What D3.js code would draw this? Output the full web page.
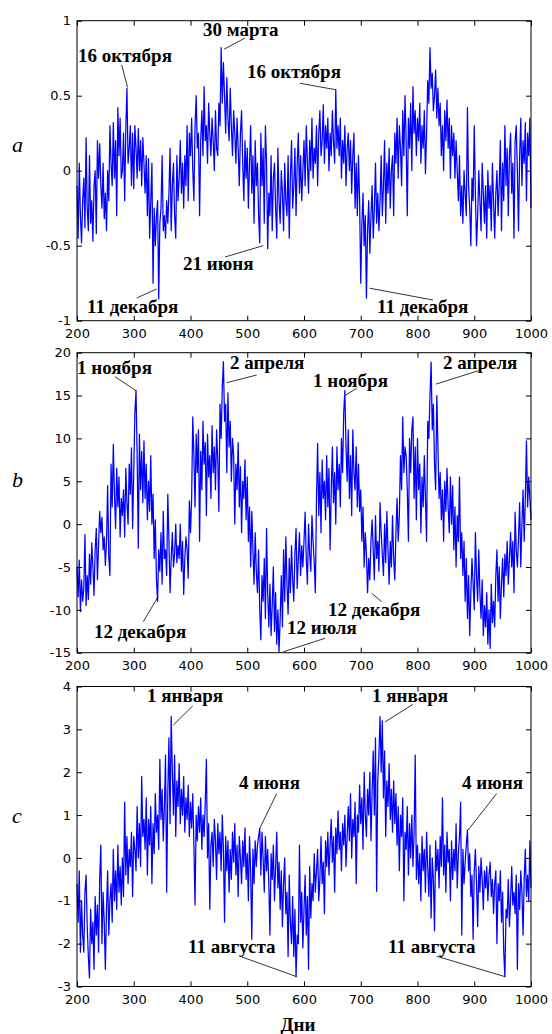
<!DOCTYPE html>
<html><head><meta charset="utf-8">
<script src="https://cdn.jsdelivr.net/npm/d3@7"></script>
<style>body{margin:0;background:#fff} svg{display:block}</style>
</head><body>
<svg id="chart" width="552" height="1034"></svg>
<script>
// ---------- DATA ----------
const startDay = 200, stepDays = 2;
const xTicks = [200, 300, 400, 500, 600, 700, 800, 900, 1000];
const yTicksA = [-1, -0.5, 0, 0.5, 1];
const yTicksB = [-15, -10, -5, 0, 5, 10, 15, 20];
const yTicksC = [-3, -2, -1, 0, 1, 2, 3, 4];
const panelLetters = ["a", "b", "c"];
const xAxisLabel = "Дни";

const seriesA = [
-0.10,-0.45,0.05,-0.30,-0.48,-0.20,-0.05,-0.38,0.22,-0.25,
-0.40,0.10,-0.35,-0.20,-0.47,-0.10,0.00,-0.42,0.20,-0.05,
0.18,-0.10,-0.25,0.05,-0.32,-0.15,-0.40,0.00,-0.20,0.30,
0.05,-0.10,0.32,-0.05,0.20,-0.30,0.42,0.10,0.35,-0.05,
0.00,0.25,-0.20,0.28,0.55,0.05,0.15,0.30,-0.10,0.25,
-0.12,0.30,0.15,-0.05,0.28,0.00,0.20,-0.10,0.22,0.05,
-0.15,0.10,-0.30,0.08,-0.45,-0.20,0.05,-0.75,-0.25,-0.50,
-0.30,-0.20,-0.855,-0.35,-0.25,0.10,-0.40,-0.30,-0.45,-0.20,
-0.35,-0.15,0.15,-0.40,-0.10,0.05,-0.30,-0.45,0.10,-0.20,
-0.05,0.20,-0.15,0.05,-0.25,0.10,-0.10,0.30,-0.20,0.25,
0.10,0.35,0.00,-0.20,0.30,0.50,0.15,0.25,-0.30,0.20,
0.40,0.10,0.56,0.20,0.30,0.05,0.45,0.25,0.10,0.35,
0.20,0.00,0.40,0.15,0.10,0.45,0.30,0.82,0.45,0.72,
0.50,0.25,0.62,0.35,0.20,0.55,0.30,0.10,0.40,0.25,
0.05,0.35,0.15,-0.10,0.25,0.40,0.05,-0.20,0.20,-0.05,
0.15,-0.25,0.05,0.30,-0.15,0.10,-0.35,0.20,-0.10,0.05,
-0.30,-0.48,0.25,-0.10,0.15,-0.35,0.30,0.05,-0.52,-0.15,
-0.30,0.10,-0.40,-0.05,0.05,-0.25,-0.45,0.15,-0.20,-0.35,
0.00,-0.15,-0.40,0.05,-0.20,-0.30,0.10,-0.45,-0.05,0.20,
-0.25,-0.10,0.15,-0.30,0.05,0.25,-0.15,0.10,-0.20,0.00,
0.20,-0.10,0.30,0.05,-0.15,0.20,0.00,0.35,-0.05,0.15,
0.05,0.30,-0.10,0.25,0.40,0.10,0.20,0.44,0.05,0.30,
0.15,0.35,0.00,0.25,0.10,0.40,0.20,0.05,0.54,0.15,
0.30,0.10,0.35,-0.05,0.20,0.05,0.30,-0.10,0.15,0.25,
0.00,0.20,-0.15,0.10,0.25,-0.25,0.05,-0.30,0.10,-0.20,
-0.75,-0.35,-0.15,-0.50,-0.30,-0.85,-0.40,-0.20,-0.55,-0.30,
-0.10,-0.45,-0.25,0.05,-0.35,-0.15,-0.40,-0.20,0.10,-0.30,
-0.10,0.20,-0.35,0.05,-0.15,0.15,-0.25,0.00,0.10,-0.30,
0.25,0.05,0.35,-0.05,0.30,0.15,-0.10,0.40,0.10,0.50,
0.20,-0.30,0.35,0.15,0.45,0.00,0.56,0.25,0.40,0.10,
0.35,0.20,0.45,0.05,0.30,0.15,0.40,-0.02,0.25,0.60,
0.45,0.82,0.55,0.65,0.40,0.50,0.67,0.35,0.55,0.30,
0.45,0.10,0.30,0.00,0.40,0.20,0.47,0.15,0.35,-0.05,
0.30,0.10,0.25,-0.05,0.20,0.00,-0.20,0.10,-0.30,-0.10,
-0.35,0.00,-0.15,-0.30,0.42,-0.10,-0.25,-0.50,-0.05,-0.20,
0.30,-0.15,-0.50,-0.30,0.00,-0.20,-0.40,0.05,-0.15,-0.35,
-0.10,-0.45,0.00,-0.25,-0.10,-0.40,0.05,-0.20,-0.45,-0.15,
0.00,-0.30,-0.10,0.20,-0.40,0.05,-0.20,0.30,-0.10,0.15,
-0.30,0.10,0.25,-0.15,0.05,-0.45,0.20,0.30,0.00,-0.40,
0.10,0.35,-0.10,0.20,0.05,0.32,-0.20,0.25,0.10,0.35,
-0.25];

const seriesB = [
-5.0,-8.5,-4.2,-10.2,-6.5,-9.0,-7.5,-1.2,-9.5,-6.0,
-8.8,-3.5,-7.0,-2.2,-5.0,-8.3,-3.0,-0.5,-6.5,-2.5,
1.5,-1.0,0.8,-3.0,-1.5,-4.8,-2.0,4.5,-3.8,-6.0,
7.0,2.0,9.3,3.5,-0.5,6.5,2.0,5.5,-1.5,3.0,
1.0,4.0,-1.5,6.5,2.5,0.0,7.0,3.5,8.9,-0.5,
6.0,13.0,15.6,8.0,-2.8,10.5,4.0,8.5,2.5,9.7,
3.0,7.0,0.5,5.0,1.5,8.0,0.0,3.5,-4.0,0.5,
-6.5,-9.0,-3.0,-5.5,-1.0,-7.0,1.5,-4.0,-3.0,-6.0,
3.5,-2.0,-8.0,-4.0,-1.0,-5.0,-3.5,0.0,-4.5,-2.5,
-4.0,0.0,-5.5,-2.0,-8.2,-4.0,-1.5,-3.0,-6.3,2.7,
-1.0,3.0,12.5,8.0,2.0,10.5,6.0,11.0,-2.0,8.5,
4.0,12.0,7.0,9.5,1.0,10.5,5.5,8.0,3.0,11.5,
6.0,9.0,4.0,11.0,7.5,1.5,14.0,10.0,16.0,18.95,
12.0,14.0,6.0,15.3,9.0,12.0,5.0,10.0,8.0,0.0,
7.0,4.0,9.5,2.0,6.7,-1.0,5.0,3.0,7.5,0.5,
5.5,-2.0,2.0,-5.0,1.5,-3.0,-7.0,-1.0,-5.5,-8.0,
-3.0,-10.0,-13.5,-6.0,-9.0,-4.0,-11.0,-0.5,-8.0,-12.0,
-7.0,-13.0,-9.5,-5.0,-12.5,-8.0,-14.0,-10.0,-14.9,-11.0,
-6.0,-12.0,-3.0,-9.0,-1.5,-7.0,-10.5,-4.0,-8.0,-2.5,
-6.5,-9.0,-3.5,-0.5,-7.5,-4.0,-1.0,-6.0,-2.5,-5.0,
-2.0,1.4,-4.0,-7.0,0.0,-3.5,-5.5,1.0,-2.0,-4.5,
-8.0,3.0,9.4,1.0,6.0,-1.0,7.5,3.0,5.0,0.5,
8.0,2.0,6.5,-3.0,4.0,9.0,2.5,6.0,0.0,9.0,
4.0,7.0,2.0,10.0,6.0,13.0,15.6,9.0,5.0,11.0,
3.0,8.0,1.0,11.0,6.0,4.0,9.0,2.0,7.0,1.5,
4.0,-2.0,2.0,-5.0,-1.0,-3.5,-8.0,-4.0,-6.5,-2.0,
0.5,-3.0,-6.5,1.0,-4.0,-2.0,-5.5,2.5,-1.0,-3.5,
-6.0,0.0,-4.5,1.5,-3.0,-7.0,-2.0,-5.0,1.0,-4.0,
-6.5,-1.0,3.0,-2.0,1.0,8.0,4.0,12.5,6.0,9.0,
8.0,4.0,-2.0,10.0,6.0,11.0,12.5,3.0,9.0,0.5,
10.0,4.0,7.0,-1.0,5.5,2.0,8.0,3.0,-2.0,12.0,
10.0,15.0,18.9,11.0,14.0,7.0,4.0,15.0,9.0,3.0,
6.0,0.5,4.0,-2.0,5.0,1.5,6.5,2.0,-1.0,5.5,
0.0,4.5,-3.0,2.0,-5.0,1.0,-2.0,5.5,-4.0,-1.0,
-6.0,-2.0,-9.0,-4.0,-11.0,-6.0,-13.0,-8.0,-4.0,-7.0,
-10.0,-1.0,-6.0,-9.0,-3.0,-8.0,-11.0,-6.5,-13.0,-9.5,
-12.0,-8.0,-14.0,-10.0,-14.5,-7.0,-11.5,-9.0,-12.0,-6.0,
-3.0,-9.0,-5.0,-11.0,-7.0,-4.0,-8.5,-3.5,-6.0,-2.0,
-7.0,-4.0,-1.0,-5.0,-2.0,-8.0,1.4,-3.0,-5.0,-1.5,
2.5,-5.0,0.0,4.0,-2.0,3.0,9.7,2.0,5.5,3.0,
0.5];

const seriesC = [
-0.6,-1.5,-0.3,-2.2,-1.0,-1.8,-2.2,-0.8,-0.4,-1.6,
-2.3,-2.8,-1.2,-2.0,-1.5,-2.6,-0.9,-1.8,-1.1,-2.2,
-0.5,0.3,-2.0,-0.8,-1.5,-2.6,-1.2,-0.3,-1.8,-1.0,
-0.6,-1.5,0.2,-1.0,-0.3,-1.2,0.3,-0.8,-0.2,-1.1,
0.0,-0.9,1.3,-0.4,0.5,-0.6,0.2,-0.2,0.6,-0.9,
0.5,0.2,-0.3,1.2,0.0,0.8,-0.2,1.9,0.5,0.9,
0.2,1.4,-0.4,0.9,0.3,1.2,-0.6,0.8,0.1,1.5,
0.6,1.0,0.2,2.3,0.9,1.6,0.4,1.2,2.4,-0.8,
1.5,2.8,0.8,3.3,2.0,1.0,2.4,0.5,1.8,1.2,
2.2,0.8,1.6,1.0,1.9,0.6,1.4,0.9,1.7,0.5,
1.3,0.7,1.5,0.3,-1.1,1.0,0.4,1.2,0.6,1.4,
0.2,1.0,0.5,1.3,2.3,0.0,0.8,-1.2,0.3,0.6,
-0.2,0.9,0.4,-0.5,0.8,0.1,0.6,-0.3,1.0,0.2,
-1.5,0.5,-0.3,0.4,-0.8,0.2,-0.5,0.6,-0.1,0.8,
-0.4,0.3,-0.9,0.5,0.0,-0.6,0.4,-0.2,0.7,-0.5,
0.1,-1.0,0.5,-0.3,-1.9,0.2,-0.6,0.4,-0.2,0.3,
0.5,0.69,-0.4,0.6,0.0,-0.8,0.5,-0.3,0.2,-0.6,
-1.8,0.1,-0.5,0.3,-1.0,-0.2,0.6,-0.7,-0.1,-1.2,
-0.3,-1.6,-0.6,0.0,-1.3,-0.8,-2.3,-0.4,-1.5,-2.0,
-0.9,-2.3,-1.2,-2.77,-1.8,-2.0,0.3,-1.5,-0.8,-2.1,
-1.2,-0.4,-1.8,-0.9,-2.6,-0.2,-1.4,-0.6,-1.0,0.1,
-0.8,-0.3,0.2,-1.0,-0.5,0.5,-0.6,-0.1,-1.3,0.4,
-0.2,0.6,-0.4,0.3,0.9,-0.1,0.5,-0.8,0.7,0.1,
1.1,0.2,0.6,-0.3,0.8,0.3,1.0,-0.2,0.5,1.2,
0.4,1.5,0.0,0.9,0.5,1.3,-0.6,1.0,0.6,1.7,
0.8,1.4,0.2,2.0,1.0,0.5,1.6,1.0,2.0,0.4,
1.5,2.5,1.0,2.8,-0.78,1.8,2.4,3.3,2.0,3.2,
1.4,2.5,0.5,1.8,1.2,2.2,0.9,1.6,0.6,1.8,
0.8,1.5,0.3,1.2,-0.3,1.0,0.5,1.4,-1.0,0.6,
0.2,1.2,-0.4,0.8,0.0,1.0,-0.2,0.6,2.4,-0.5,
0.3,-0.6,0.1,-1.0,0.5,-0.3,0.2,-0.8,0.6,-0.2,
-0.9,0.3,-1.4,0.0,-0.5,-1.7,0.4,-0.3,0.2,-0.7,
0.5,-0.2,1.4,-0.4,0.3,-0.8,0.6,-0.1,0.2,-1.0,
0.4,-0.5,0.2,-0.3,0.8,-0.7,0.1,0.5,1.3,-1.8,
0.2,-0.6,-0.1,0.3,0.65,-0.3,0.1,-0.9,-0.4,-1.9,
-0.3,0.2,-0.6,-1.6,-0.2,-0.8,0.0,-0.5,-1.2,-0.3,
-0.7,-0.2,-1.0,-0.4,-0.1,-0.9,-0.5,-1.3,-0.6,-0.3,
-2.0,-0.6,-1.0,-0.3,-1.5,-0.8,-2.2,-2.77,-1.2,-1.4,
-0.5,-1.6,-1.0,-0.2,-1.1,-0.8,-1.3,-0.4,-2.6,-0.6,
-1.2,-0.3,-0.8,-1.8,-0.5,0.2,-0.9,-0.4,-1.0,0.4,
-0.7];

// annotated points (day, value, label)
const annotA = [
  {day: 289, value: 0.55, label: "16 октября"},
  {day: 454, value: 0.82, label: "30 марта"},
  {day: 656, value: 0.54, label: "16 октября"},
  {day: 528, value: -0.50, label: "21 июня"},
  {day: 344, value: -0.855, label: "11 декабря"},
  {day: 712, value: -0.85, label: "11 декабря"}
];
const annotB = [
  {day: 304, value: 15.57, label: "1 ноября"},
  {day: 458, value: 18.95, label: "2 апреля"},
  {day: 672, value: 15.6, label: "1 ноября"},
  {day: 825, value: 18.9, label: "2 апреля"},
  {day: 343, value: -9.05, label: "12 декабря"},
  {day: 557, value: -14.9, label: "12 июля"},
  {day: 713, value: -8.0, label: "12 декабря"}
];
const annotC = [
  {day: 367, value: 3.31, label: "1 января"},
  {day: 734, value: 3.3, label: "1 января"},
  {day: 522, value: 0.69, label: "4 июня"},
  {day: 889, value: 0.65, label: "4 июня"},
  {day: 587, value: -2.77, label: "11 августа"},
  {day: 954, value: -2.77, label: "11 августа"}
];

// ---------- LAYOUT (pixels, relative to plot box) ----------
const layoutA = [
  {tx: 1, ty: 41.3, sx: 0, sy: -1, ex: 44.7, ey: 44.3},
  {tx: 126, ty: 15.3, sx: 3, sy: 1.5, ex: 168, ey: 17.3},
  {tx: 170, ty: 57.3, sx: 0, sy: 0, ex: 223, ey: 62.6},
  {tx: 106, ty: 249.3, sx: 0, sy: 0, ex: 148, ey: 236.3},
  {tx: 10, ty: 292.3, sx: -2, sy: -10, ex: 59.7, ey: 277.3},
  {tx: 300, ty: 292.3, sx: 2, sy: -10, ex: 356, ey: 279.3}
];
const layoutB = [
  {tx: 0, ty: 21.3, sx: 0, sy: 0, ex: 38, ey: 24},
  {tx: 153, ty: 16.3, sx: 3.3, sy: 21, ex: 179.7, ey: 22.3},
  {tx: 236, ty: 34.3, sx: 1, sy: 4.6, ex: 279.7, ey: 35.6},
  {tx: 366, ty: 16.3, sx: 4.3, sy: 22, ex: 401.3, ey: 18},
  {tx: 17, ty: 285.3, sx: 0, sy: -5, ex: 66.3, ey: 269},
  {tx: 210, ty: 281.3, sx: 3.7, sy: 0, ex: 248, ey: 285.6},
  {tx: 251, ty: 263.3, sx: 3.6, sy: 0.6, ex: 304.7, ey: 249}
];
const layoutC = [
  {tx: 70, ty: 15.7, sx: 1.5, sy: 9, ex: 115.7, ey: 19.4},
  {tx: 295, ty: 15.7, sx: 5, sy: 5.4, ex: 335.7, ey: 18},
  {tx: 162, ty: 102.7, sx: 0, sy: 0, ex: 199.7, ey: 107},
  {tx: 385, ty: 102.7, sx: 0, sy: 0, ex: 419.7, ey: 107},
  {tx: 111, ty: 266.7, sx: 0, sy: 0, ex: 164.7, ey: 270.4},
  {tx: 311, ty: 266.7, sx: 0, sy: 0, ex: 359.7, ey: 269.7}
];

const plotLeft = 77, plotRight = 531, plotH = 300;
const panels = [
  {values: seriesA, domain: [-1, 1], ticks: yTicksA, top: 20.7, ann: annotA, lay: layoutA, letterY: 151.5},
  {values: seriesB, domain: [-15, 20], ticks: yTicksB, top: 352.7, ann: annotB, lay: layoutB, letterY: 486.5},
  {values: seriesC, domain: [-3, 4], ticks: yTicksC, top: 686.5, ann: annotC, lay: layoutC, letterY: 823}
];

const svg = d3.select("#chart");
const tickFont = "'DejaVu Sans', sans-serif";
const annFont = "'Liberation Serif', 'Times New Roman', serif";

panels.forEach((p, pi) => {
  const x = d3.scaleLinear().domain([200, 1000]).range([plotLeft, plotRight]);
  const y = d3.scaleLinear().domain(p.domain).range([p.top + plotH, p.top]);
  const g = svg.append("g");

  const line = d3.line()
    .x((d, i) => x(startDay + i * stepDays))
    .y(d => y(d));
  g.append("path").datum(p.values)
    .attr("d", line).attr("fill", "none")
    .attr("stroke", "#0000ff").attr("stroke-width", 1.25)
    .attr("stroke-linejoin", "round");

  const fmt = d => String(d);
  const styleAxis = sel => {
    sel.select(".domain").remove();
    sel.selectAll("line").attr("stroke", "#000");
    sel.selectAll("text").attr("fill", "#000")
      .attr("font-family", tickFont).attr("font-size", 13);
  };
  g.append("g").attr("transform", `translate(0,${p.top + plotH})`)
    .call(d3.axisBottom(x).tickValues(xTicks).tickSizeInner(-5).tickSizeOuter(0).tickPadding(8).tickFormat(fmt))
    .call(styleAxis);
  g.append("g").attr("transform", `translate(0,${p.top})`)
    .call(d3.axisTop(x).tickValues(xTicks).tickSizeInner(-5).tickSizeOuter(0).tickFormat(""))
    .call(styleAxis);
  g.append("g").attr("transform", `translate(${plotLeft},0)`)
    .call(d3.axisLeft(y).tickValues(p.ticks).tickSizeInner(-5).tickSizeOuter(0).tickPadding(6).tickFormat(fmt))
    .call(styleAxis);
  g.append("g").attr("transform", `translate(${plotRight},0)`)
    .call(d3.axisRight(y).tickValues(p.ticks).tickSizeInner(-5).tickSizeOuter(0).tickFormat(""))
    .call(styleAxis);

  g.append("rect").attr("x", plotLeft).attr("y", p.top)
    .attr("width", plotRight - plotLeft).attr("height", plotH)
    .attr("fill", "none").attr("stroke", "#000").attr("stroke-width", 1);

  p.ann.forEach((a, i) => {
    const L = p.lay[i];
    const px = x(a.day), py = y(a.value);
    g.append("line")
      .attr("x1", px + L.sx).attr("y1", py + L.sy)
      .attr("x2", plotLeft + L.ex).attr("y2", p.top + L.ey)
      .attr("stroke", "#000").attr("stroke-width", 0.8);
    g.append("text")
      .attr("x", plotLeft + L.tx).attr("y", p.top + L.ty)
      .attr("font-family", annFont).attr("font-weight", "bold")
      .attr("font-size", 19).attr("fill", "#000")
      .text(a.label);
  });

  svg.append("text").attr("x", 12).attr("y", p.letterY)
    .attr("font-family", annFont).attr("font-style", "italic")
    .attr("font-size", 22).attr("fill", "#000")
    .text(panelLetters[pi]);
});

svg.append("text").attr("x", 298).attr("y", 1031)
  .attr("text-anchor", "middle")
  .attr("font-family", annFont).attr("font-weight", "bold")
  .attr("font-size", 19).attr("fill", "#000")
  .text(xAxisLabel);
</script>
</body></html>
